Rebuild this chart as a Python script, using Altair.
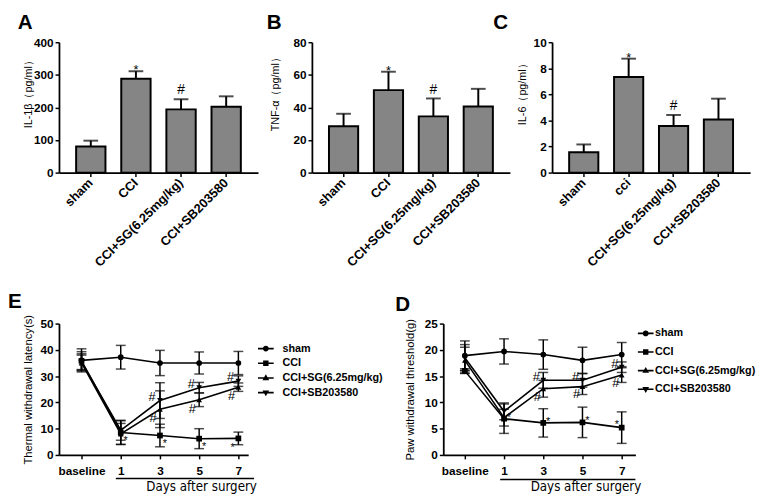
import altair as alt
import pandas as pd

FONT = "Liberation Sans"
NARROW = "DejaVu Sans Condensed, Liberation Sans, sans-serif"
BAR_FILL = "#858585"

# ---------------- bar panels (A, B, C) ----------------
groups_ab = ["sham", "CCI", "CCI+SG(6.25mg/kg)", "CCI+SB203580"]
groups_c = ["sham", "cci", "CCI+SG(6.25mg/kg)", "CCI+SB203580"]
il1b_mean = [80, 288, 194, 202]
il1b_err = [18, 23, 31, 32]
tnf_mean = [28.4, 50.6, 34.5, 40.6]
tnf_err = [7.7, 11.3, 11.0, 10.8]
il6_mean = [1.56, 7.34, 3.57, 4.07]
il6_err = [0.6, 1.4, 0.85, 1.6]
bar_notes = ["", "*", "#", ""]

# ---------------- line panels (E, D) ----------------
days = ["baseline", "1", "3", "5", "7"]
series = ["sham", "CCI", "CCI+SG(6.25mg/kg)", "CCI+SB203580"]

e_sham = [36.0, 37.2, 35.0, 35.0, 35.0]
e_sham_err = [4.4, 4.5, 4.8, 4.2, 4.4]
e_cci = [35.8, 8.5, 7.4, 6.2, 6.3]
e_cci_err = [3.5, 4.5, 4.3, 3.8, 2.4]
e_sg = [35.0, 8.0, 17.4, 21.0, 25.8]
e_sg_err = [3.0, 4.0, 7.0, 2.6, 1.6]
e_sb = [35.5, 9.4, 20.7, 25.6, 28.1]
e_sb_err = [3.0, 3.8, 6.8, 2.0, 2.0]

d_sham = [18.9, 19.7, 19.1, 18.0, 19.1]
d_sham_err = [2.8, 2.4, 2.8, 2.5, 2.3]
d_cci = [16.0, 6.9, 6.1, 6.2, 5.2]
d_cci_err = [0.4, 2.8, 2.7, 2.9, 3.0]
d_sg = [18.0, 7.1, 12.6, 13.0, 15.2]
d_sg_err = [2.5, 1.6, 1.6, 1.5, 1.4]
d_sb = [18.5, 8.3, 14.2, 14.2, 16.7]
d_sb_err = [2.5, 1.6, 1.5, 1.3, 1.0]

star_notes = ["", "*", "*", "*", "*"]
hash_notes = ["", "", "#", "#", "#"]
blank_notes = ["", "", "", "", ""]

point_shapes = ["circle", "square", "triangle-up", "triangle-down"]
LINE = "M-1.6,-0.17H1.6V0.17H-1.6Z "
legend_paths = [
    LINE + "M0,-0.6A0.6,0.6 0 1,1 0,0.6A0.6,0.6 0 1,1 0,-0.6Z",
    LINE + "M-0.55,-0.55H0.55V0.55H-0.55Z",
    LINE + "M0,-0.75L0.68,0.45L-0.68,0.45Z",
    LINE + "M0,0.75L-0.68,-0.45L0.68,-0.45Z",
]


def letter_title(txt, dx, offset):
    return alt.TitleParams(txt, anchor="start", frame="group", dx=dx, offset=offset,
                           fontSize=21, fontWeight="bold", font=FONT, color="black")


def bar_panel(letter, letter_dx, groups, means, errs, ytitle, ymax, ystep, title_x,
              cell_w, rng_w):
    df = pd.DataFrame({
        "group": groups,
        "mean": means,
        "top": [m + e for m, e in zip(means, errs)],
        "note": bar_notes,
    })
    xsc = alt.Scale(range=[0, rng_w], paddingInner=0.35, paddingOuter=0.38)
    xax = alt.Axis(title=None, labelAngle=-45, labelAlign="right",
                   labelBaseline="middle", labelPadding=4, tickSize=4, labelFontSize=13)
    ysc = alt.Scale(domain=[0, ymax], nice=False)
    yax = alt.Axis(values=list(range(0, ymax + 1, ystep)), title=ytitle,
                   titleX=title_x, titleY=50, titleBaseline="middle",
                   titleAlign="center", tickSize=4, labelPadding=2)

    def X():
        return alt.X("group:N", sort=groups, scale=xsc, axis=xax)

    def Y(f):
        return alt.Y(f, scale=ysc, axis=yax)

    base = alt.Chart(df)
    bars = base.mark_bar(fill=BAR_FILL, stroke="black", strokeWidth=2).encode(x=X(), y=Y("mean:Q"))
    rule = base.mark_rule(color="black", strokeWidth=2).encode(x=X(), y=Y("mean:Q"), y2="top:Q")
    cap = base.mark_tick(color="black", thickness=2, size=15, orient="horizontal").encode(
        x=X(), y=Y("top:Q"))
    star = base.transform_filter("datum.note == '*'").mark_text(
        font=FONT, fontSize=13, color="black", baseline="alphabetic", dy=3).encode(
        x=X(), y=Y("top:Q"), text="note:N")
    hsh = base.transform_filter("datum.note == '#'").mark_text(
        font=FONT, fontSize=14, color="black", baseline="alphabetic", dy=-5).encode(
        x=X(), y=Y("top:Q"), text="note:N")
    return alt.layer(bars, rule, cap, star, hsh).properties(
        width=cell_w, height=133, title=letter_title(letter, letter_dx, 3))


def line_panel(letter, letter_dx, vals, ytitle, ymax, ystep, xdom, width, title_x,
               leg_x, leg_y, leg_off, leg_pad, star_d, star_last_d, sb_d, sg_d,
               rule_x, rule_x2, rule_y, dtitle_x):
    rows = []
    notes = [blank_notes, star_notes, hash_notes, hash_notes]
    for s, (m, e), nt in zip(series, vals, notes):
        for i in range(len(days)):
            rows.append({"series": s, "idx": i, "m": m[i], "lo": m[i] - e[i],
                         "hi": m[i] + e[i], "note": nt[i]})
    df = pd.DataFrame(rows)
    labels_js = "[" + ",".join("'" + d + "'" for d in days) + "]"
    xsc = alt.Scale(domain=xdom, nice=False, zero=False)
    xax = alt.Axis(values=list(range(len(days))), labelExpr=labels_js + "[datum.value]",
                   title="Days after surgery", titleX=dtitle_x, titleY=32,
                   titleBaseline="middle", titleAlign="center",
                   titleFont=NARROW, titleFontSize=13.5, titleFontWeight="normal",
                   tickSize=4, labelPadding=7, labelFontSize=12)
    ysc = alt.Scale(domain=[0, ymax], nice=False)
    yax = alt.Axis(values=list(range(0, ymax + 1, ystep)), title=ytitle,
                   titleX=title_x, titleBaseline="middle", titleAlign="center",
                   titleFontSize=11.5, tickSize=4, labelPadding=2)

    def X():
        return alt.X("idx:Q", scale=xsc, axis=xax)

    def Y(f):
        return alt.Y(f, scale=ysc, axis=yax)

    base = alt.Chart(df)
    lines = base.mark_line(color="black", strokeWidth=1.6).encode(
        x=X(), y=Y("m:Q"), detail="series:N", order="idx:Q")
    err = base.mark_rule(color="black", strokeWidth=1.5).encode(
        x=X(), y=Y("lo:Q"), y2="hi:Q")
    cap_lo = base.mark_tick(color="black", thickness=1.5, size=10, orient="horizontal").encode(
        x=X(), y=Y("lo:Q"))
    cap_hi = base.mark_tick(color="black", thickness=1.5, size=10, orient="horizontal").encode(
        x=X(), y=Y("hi:Q"))
    layers = [lines, err, cap_lo, cap_hi]
    for s, shp in zip(series, point_shapes):
        layers.append(base.transform_filter(f"datum.series == '{s}'").mark_point(
            shape=shp, filled=True, size=34, color="black", opacity=1).encode(x=X(), y=Y("m:Q")))
    leg = base.mark_point(filled=True, opacity=0, size=100, color="black").encode(
        x=X(), y=Y("m:Q"),
        shape=alt.Shape("series:N", sort=series,
                        scale=alt.Scale(domain=series, range=legend_paths),
                        legend=alt.Legend(title=None, orient="none", legendX=leg_x, legendY=leg_y,
                                          padding=0, symbolSize=100, symbolFillColor="black",
                                          symbolStrokeWidth=0, symbolOpacity=1,
                                          labelFont=FONT, labelFontSize=11,
                                          labelFontWeight="bold", labelColor="black",
                                          labelOffset=leg_off, rowPadding=leg_pad)))
    layers.append(leg)
    cci, sg, sb = series[1], series[2], series[3]
    layers.append(base.transform_filter(f"datum.series == '{cci}' && datum.idx > 0 && datum.idx < 4")
                  .mark_text(font=FONT, fontSize=11, color="black", baseline="middle",
                             dx=star_d[0], dy=star_d[1]).encode(x=X(), y=Y("m:Q"), text="note:N"))
    layers.append(base.transform_filter(f"datum.series == '{cci}' && datum.idx == 4")
                  .mark_text(font=FONT, fontSize=11, color="black", baseline="middle",
                             dx=star_last_d[0], dy=star_last_d[1]).encode(x=X(), y=Y("m:Q"), text="note:N"))
    layers.append(base.transform_filter(f"datum.series == '{sb}' && datum.note != ''")
                  .mark_text(font=FONT, fontSize=13, color="black", baseline="middle",
                             dx=sb_d[0], dy=sb_d[1]).encode(x=X(), y=Y("m:Q"), text="note:N"))
    layers.append(base.transform_filter(f"datum.series == '{sg}' && datum.note != ''")
                  .mark_text(font=FONT, fontSize=13, color="black", baseline="middle",
                             dx=sg_d[0], dy=sg_d[1]).encode(x=X(), y=Y("m:Q"), text="note:N"))
    underline = alt.Chart(pd.DataFrame({"k": [0]})).mark_rule(color="black", strokeWidth=1.5).encode(
        x=alt.value(rule_x), x2=alt.value(rule_x2), y=alt.value(rule_y))
    layers.append(underline)
    return alt.layer(*layers).properties(width=width, height=134,
                                         title=letter_title(letter, letter_dx, 3))


pA = bar_panel("A", -42, groups_ab, il1b_mean, il1b_err, "IL-1β（pg/ml）", 400, 100, -31, 215, 203)
pB = bar_panel("B", -46, groups_ab, tnf_mean, tnf_err, "TNF-α（pg/ml）", 80, 20, -37, 202, 202)
pC = bar_panel("C", -60, groups_c, il6_mean, il6_err, "IL-6（pg/ml）", 10, 2, -30, 202, 202)

pE = line_panel("E", -52,
                [(e_sham, e_sham_err), (e_cci, e_cci_err), (e_sg, e_sg_err), (e_sb, e_sb_err)],
                "Thermal withdrawal latency(s)", 50, 10, [-0.575, 4.25], 193, -31,
                205.5, 20, 11.5, 3, (5, 9), (-6, 10), (-8, -4), (-7, 9),
                58, 199, 158, 145)
pD = line_panel("D", -49,
                [(d_sham, d_sham_err), (d_cci, d_cci_err), (d_sg, d_sg_err), (d_sb, d_sb_err)],
                "Paw withdrawal threshold(g)", 25, 5, [-0.55, 4.35], 196, -33,
                201, 4.5, 4, 7, (5, -1), (-5, -3), (-7, -3), (-6, 8),
                58, 196, 159, 145)

top = alt.hconcat(pA, pB, pC, spacing=43, bounds="flush")
bottom = alt.hconcat(pE, pD, spacing=199, bounds="flush").resolve_scale(
    shape="independent").resolve_legend(shape="independent")

chart = alt.vconcat(top, bottom, spacing=21).resolve_scale(shape="independent").resolve_legend(
    shape="independent").properties(padding=0, background="white").configure_view(
    stroke=None).configure_axis(
    domainColor="black", domainWidth=1.8, tickColor="black", tickWidth=1.5,
    labelColor="black", labelFont=FONT, labelFontWeight="bold", labelFontSize=12,
    titleColor="black", titleFont=FONT, titleFontWeight="normal", titleFontSize=11,
    grid=False)

chart.save("out.html", embed_options={"renderer": "svg", "actions": False})
